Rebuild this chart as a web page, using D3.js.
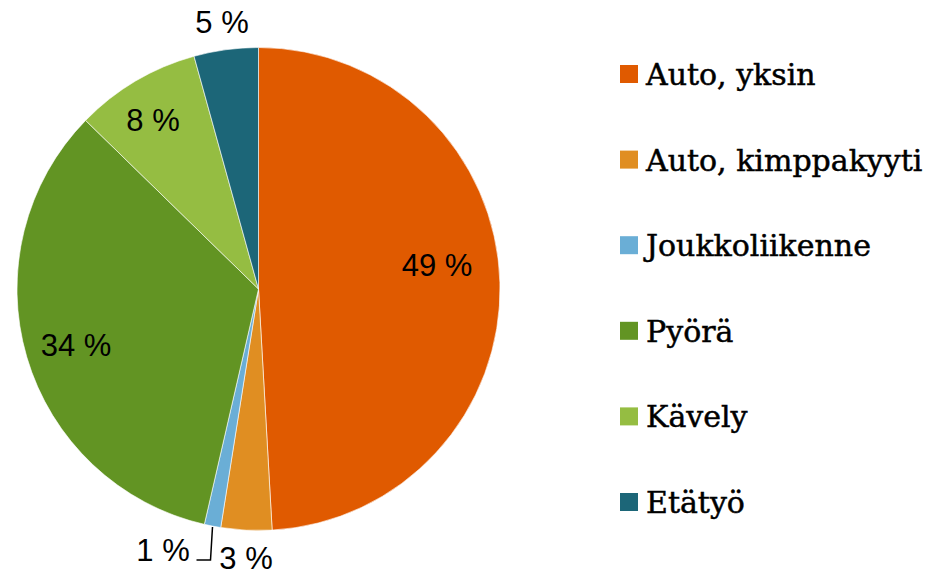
<!DOCTYPE html>
<html>
<head>
<meta charset="utf-8">
<script src="https://cdn.jsdelivr.net/npm/d3@7"></script>
<style>
  body { margin: 0; background: #fff; }
  svg { display: block; }
</style>
</head>
<body>
<svg id="chart" width="938" height="572"></svg>
<script>
// data
var categories = ["Auto, yksin", "Auto, kimppakyyti", "Joukkoliikenne", "Pyörä", "Kävely", "Etätyö"];
var shares = [49.1, 3.4, 1.1, 33.7, 8.4, 4.3];
var labels = ["49 %", "3 %", "1 %", "34 %", "8 %", "5 %"];
var colors = ["#e05a00", "#e08e22", "#6aaed6", "#629423", "#95bd42", "#1c6678"];

var svg = d3.select("#chart");
var cx = 258.5, cy = 289, r = 241.5;

var data = categories.map(function(c, i){
  return {name: c, value: shares[i], label: labels[i], color: colors[i]};
});

var pie = d3.pie().sort(null).value(function(d){ return d.value; });
var arc = d3.arc().innerRadius(0).outerRadius(r);
var arcs = pie(data);

var g = svg.append("g").attr("transform", "translate(" + cx + "," + cy + ")");

g.selectAll("path.slice")
  .data(arcs)
  .enter().append("path")
  .attr("class", "slice")
  .attr("d", arc)
  .attr("fill", function(d){ return d.data.color; })
  .attr("stroke", "#fff")
  .attr("stroke-width", 0.6);

function polar(a, rad){
  return [Math.sin(a) * rad, -Math.cos(a) * rad];
}

// label spots, hand-placed to match the original
var labelSpots = [[437, 265], [246, 558], [163, 550], [76, 345], [153, 120], [222, 22]];
arcs.forEach(function(d, i){
  d.lx = labelSpots[i][0] - cx;
  d.ly = labelSpots[i][1] - cy;
});

g.selectAll("text.lbl")
  .data(arcs)
  .enter().append("text")
  .attr("class", "lbl")
  .attr("x", function(d){ return d.lx; })
  .attr("y", function(d){ return d.ly; })
  .attr("text-anchor", "middle")
  .attr("dominant-baseline", "central")
  .style("font-family", "'Liberation Sans', Arial, sans-serif")
  .style("font-size", "31px")
  .style("fill", "#000")
  .text(function(d){ return d.data.label; });

// leader line for the 1 % slice
var small = arcs[2];
var edge = polar((small.startAngle + small.endAngle) / 2, r);
var leaderY = 560 - cy;
g.append("path")
  .attr("d", "M" + edge[0] + "," + (edge[1] + 1) +
             "L" + (edge[0] - 2) + "," + leaderY +
             "L" + (edge[0] - 16) + "," + leaderY)
  .attr("fill", "none")
  .attr("stroke", "#000")
  .attr("stroke-width", 1.5);

// legend
var legendY = d3.scalePoint().domain(categories).range([74, 502]);

var leg = svg.append("g").selectAll("g")
  .data(data)
  .enter().append("g")
  .attr("transform", function(d){ return "translate(620," + legendY(d.name) + ")"; });

leg.append("rect")
  .attr("x", 0).attr("y", -9)
  .attr("width", 18).attr("height", 18)
  .attr("fill", function(d){ return d.color; });

leg.append("text")
  .attr("x", 26).attr("y", 11)
  .style("font-family", "'DejaVu Serif', serif")
  .style("font-size", "30px")
  .style("fill", "#000")
  .style("stroke", "#000")
  .style("stroke-width", 0.5)
  .text(function(d){ return d.name; });
</script>
</body>
</html>
